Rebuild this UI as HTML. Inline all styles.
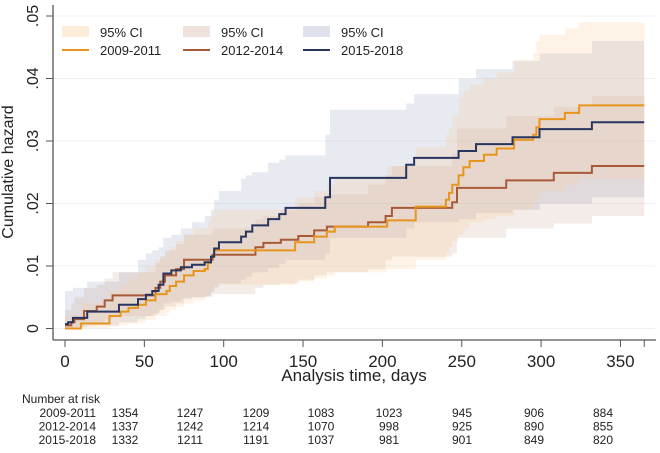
<!DOCTYPE html>
<html><head><meta charset="utf-8"><style>
body{margin:0;background:#fff;font-family:"Liberation Sans",sans-serif}
svg text{font-family:"Liberation Sans",sans-serif}
</style></head><body>
<svg id="c" width="660" height="448" viewBox="0 0 660 448"></svg>
<script>
const tOrange=[0,10,28,35,40,46,51,57,64,66,70,75,81,88,90,92,94,145,157,165,170,203,221,240,242,244,248,251,255,264,272,283,295,297,299,315,324];
const hOrange=[0,.0008,.002,.0027,.0033,.0038,.0045,.0055,.006,.0068,.0075,.0085,.0092,.0095,.0105,.0115,.0125,.0138,.0147,.0155,.0163,.0173,.0195,.0206,.0217,.023,.0245,.0258,.0268,.0278,.0288,.0302,.031,.0322,.0335,.0345,.0357];
const hiOrange=[.002,.004,.006,.007,.008,.009,.010,.011,.012,.013,.014,.015,.016,.016,.017,.018,.019,.021,.022,.023,.024,.026,.029,.031,.032,.034,.037,.038,.039,.040,.041,.043,.044,.046,.047,.048,.049];
const loOrange=[0,0,.0003,.0005,.0008,.001,.0014,.002,.0025,.003,.0035,.004,.0045,.005,.0055,.006,.007,.0075,.008,.0085,.009,.0095,.011,.012,.013,.014,.015,.016,.017,.0175,.018,.019,.02,.021,.022,.023,.024];
const tBrown=[0,4,6,12,20,25,30,57,60,63,70,75,93,120,125,136,147,157,165,191,202,206,244,247,278,308,332];
const hBrown=[.0005,.001,.0015,.0028,.0035,.0045,.0053,.0065,.0075,.0085,.0095,.011,.0118,.013,.0137,.0142,.0148,.0157,.0163,.017,.018,.0193,.0202,.0225,.0237,.0249,.026];
const hiBrown=[.003,.004,.005,.0065,.007,.008,.009,.0105,.0115,.0125,.0135,.015,.016,.0175,.018,.019,.02,.021,.0215,.023,.0245,.026,.028,.032,.034,.0355,.0372];
const loBrown=[0,0,.0002,.0007,.001,.0015,.002,.0025,.003,.0035,.004,.005,.0055,.0065,.007,.0072,.0078,.0085,.009,.0095,.011,.0115,.012,.0145,.016,.0168,.018];
const tNavy=[0,2,5,14,34,46,51,55,59,62,67,73,80,88,92,94,97,111,114,118,128,135,139,164,167,215,220,248,259,282,299,332];
const hNavy=[.0007,.001,.0017,.0027,.0038,.0047,.0054,.006,.007,.0088,.0093,.0098,.0102,.0106,.0115,.0128,.0138,.0147,.0155,.0165,.0175,.0183,.0193,.021,.0241,.0262,.0273,.0284,.0295,.0306,.0319,.033];
const hiNavy=[.006,.006,.0065,.0075,.009,.011,.012,.0125,.013,.0145,.015,.016,.017,.018,.019,.0205,.022,.024,.0245,.025,.0265,.027,.0277,.031,.035,.036,.0375,.040,.0415,.0428,.044,.046];
const loNavy=[0,0,.0002,.0005,.001,.0015,.002,.0023,.003,.004,.0043,.0047,.005,.0052,.0058,.0066,.0072,.0078,.0083,.009,.0097,.0103,.011,.012,.0145,.016,.017,.0175,.0185,.019,.020,.021];
const xTicks=[0,50,100,150,200,250,300,350];
const yTicks=[0,.01,.02,.03,.04,.05];
const yTickLabels=["0",".01",".02",".03",".04",".05"];
const riskGroups=["2009-2011","2012-2014","2015-2018"];
const risk2009=[1354,1247,1209,1083,1023,945,906,884];
const risk2012=[1337,1242,1214,1070,998,925,890,855];
const risk2015=[1332,1211,1191,1037,981,901,849,820];

const svg=document.getElementById('c');
const NS='http://www.w3.org/2000/svg';
const X=t=>65+t*1.587;
const Y=h=>328.5-h*6250;
const TEND=365;
function el(tag,attrs,parent){const e=document.createElementNS(NS,tag);for(const k in attrs)e.setAttribute(k,attrs[k]);(parent||svg).appendChild(e);return e;}
function stepPts(ts,hs){let p=[];for(let i=0;i<ts.length;i++){if(i>0)p.push([X(ts[i]),Y(hs[i-1])]);p.push([X(ts[i]),Y(hs[i])]);}p.push([X(TEND),Y(hs[hs.length-1])]);return p;}
yTicks.forEach((v,i)=>{
  const g=el('line',{x1:53,x2:655,y1:Y(v),y2:Y(v),stroke:'#eef1f4','stroke-width':1});
  
  
});
function band(ts,lo,hi,fill,name){
  const up=stepPts(ts,hi),dn=stepPts(ts,lo).reverse();
  const p=el('polygon',{points:up.concat(dn).map(a=>a.join(',')).join(' '),fill:fill});
  
  
}
band(tNavy,loNavy,hiNavy,'rgba(150,160,195,0.22)','ci-band-2015-2018');
band(tBrown,loBrown,hiBrown,'rgba(190,140,120,0.17)','ci-band-2012-2014');
band(tOrange,loOrange,hiOrange,'rgba(250,200,140,0.22)','ci-band-2009-2011');
function line(ts,hs,col,name){
  const p=el('polyline',{points:stepPts(ts,hs).map(a=>a.join(',')).join(' '),fill:'none',stroke:col,'stroke-width':2});
  
  
}
line(tBrown,hBrown,'#a85a38','line-2012-2014');
line(tOrange,hOrange,'#e8951e','line-2009-2011');
line(tNavy,hNavy,'#28355f','line-2015-2018');
const ya=el('line',{x1:53,x2:53,y1:5,y2:340,stroke:'#555','stroke-width':1.3});

const xa=el('line',{x1:53,x2:656,y1:340,y2:340,stroke:'#555','stroke-width':1.3});

yTicks.forEach((v,i)=>{
  const t=el('line',{x1:46,x2:53,y1:Y(v),y2:Y(v),stroke:'#555'});
  
  const l=el('text',{x:0,y:0,'font-size':16,fill:'#222','text-anchor':'middle',transform:`translate(38,${Y(v)}) rotate(-90)`});
  l.textContent=yTickLabels[i];
  
});
xTicks.concat([TEND]).forEach((v,i)=>{
  const t=el('line',{x1:X(v),x2:X(v),y1:340,y2:347,stroke:'#555'});
  
});
xTicks.forEach(v=>{
  const l=el('text',{x:X(v),y:367,'font-size':17,fill:'#222','text-anchor':'middle'});
  l.textContent=v;
  
});
const xt=el('text',{x:354,y:381,'font-size':17,fill:'#222','text-anchor':'middle'});
xt.textContent='Analysis time, days';

const yt=el('text',{x:0,y:0,'font-size':16,fill:'#222','text-anchor':'middle',transform:'translate(13,172) rotate(-90)'});
yt.textContent='Cumulative hazard';

const leg=[['rgba(250,200,140,0.35)','#e8951e','2009-2011',62,100],['rgba(190,140,120,0.25)','#a85a38','2012-2014',183,221],['rgba(150,160,195,0.3)','#28355f','2015-2018',303,341]];
leg.forEach(d=>{
  const r=el('rect',{x:d[3],y:26,width:27,height:11,fill:d[0]});
  
  const a=el('text',{x:d[4],y:37,'font-size':13,fill:'#222'});a.textContent='95% CI';
  
  const l=el('line',{x1:d[3],x2:d[3]+27,y1:50,y2:50,stroke:d[1],'stroke-width':2});
  
  const b=el('text',{x:d[4],y:55,'font-size':13,fill:'#222'});b.textContent=d[2];
  
});
const colX=[125,190,256,321,389,462,534,603];
const nr=el('text',{x:22,y:403,'font-size':12,fill:'#222'});nr.textContent='Number at risk';

[risk2009,risk2012,risk2015].forEach((row,r)=>{
  const y=417+r*13.5;
  const g=el('text',{x:96,y:y,'font-size':12,fill:'#222','text-anchor':'end'});g.textContent=riskGroups[r];
  
  row.forEach((v,i)=>{
    const c=el('text',{x:colX[i],y:y,'font-size':12,fill:'#222','text-anchor':'middle'});c.textContent=v;
    
  });
});
</script>
</body></html>
